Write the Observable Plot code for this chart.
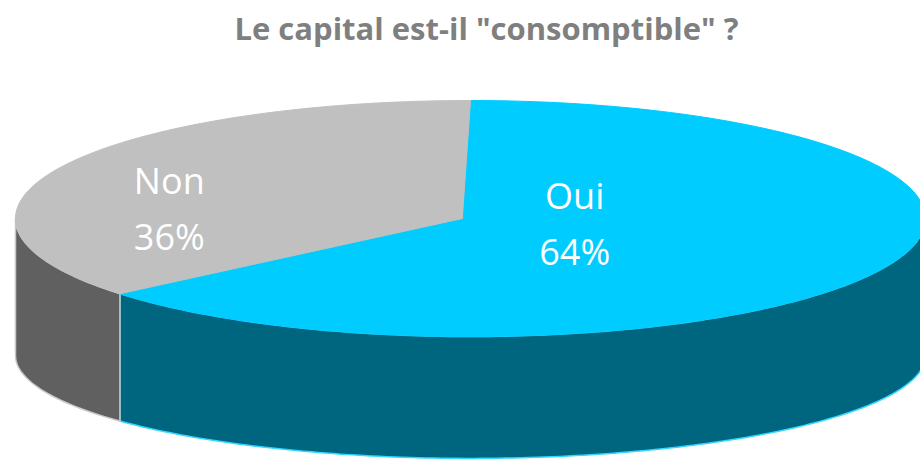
<!DOCTYPE html>
<html>
<head>
<meta charset="utf-8">
<script src="https://cdn.jsdelivr.net/npm/d3@7"></script>
<script src="https://cdn.jsdelivr.net/npm/@observablehq/plot@0.6"></script>
<style>
  html, body { margin: 0; padding: 0; background: #ffffff; overflow: hidden; }
  #chart { width: 920px; height: 460px; overflow: hidden; }
</style>
</head>
<body>
<div id="chart"></div>
<script>
// ---- Data ----
const categories = ["Oui", "Non"];
const values = [64, 36];
const percentLabels = ["64%", "36%"];
const topColors = ["#00CCFF", "#C0C0C0"];
const sideColors = ["#006680", "#606060"];
const edgeColors = ["#33D6FF", "#C8C8C8"];
const title = "Le capital est-il \"consomptible\" ?";

// ---- Geometry (unit ellipse, angle 0 = top, clockwise) ----
const depth = 1.16;          // offset of the bottom ellipse centre (vertical radius units)
const bottomSquash = 0.873;  // perspective: bottom ellipse looks flatter
const apex = [-0.018, 0];    // perspective shift of the pie centre on the top face
const total = d3.sum(values);
const slices = [];
let acc = 0;
values.forEach((v, i) => {
  const a0 = acc / total * 2 * Math.PI;
  acc += v;
  const a1 = acc / total * 2 * Math.PI;
  slices.push({name: categories[i], i, a0, a1});
});

const arcPts = (s, e, bottom = false) => {
  const n = Math.max(2, Math.ceil((e - s) / (Math.PI / 180)));
  const pts = [];
  for (let k = 0; k <= n; k++) {
    const t = s + (e - s) * k / n;
    pts.push(bottom ? [Math.sin(t), Math.cos(t) * bottomSquash - depth]
                    : [Math.sin(t), Math.cos(t)]);
  }
  return pts;
};

const tops = [];
const sides = [];
slices.forEach(s => {
  const poly = [apex, ...arcPts(s.a0, s.a1), apex];
  poly.forEach(([x, y]) => tops.push({id: s.name, i: s.i, x, y}));
  const st = Math.max(s.a0, Math.PI / 2);
  const en = Math.min(s.a1, 3 * Math.PI / 2);
  if (en > st) {
    const up = arcPts(st, en);
    const down = arcPts(st, en, true).reverse();
    const sp = [...up, ...down, up[0]];
    sp.forEach(([x, y]) => sides.push({id: s.name, i: s.i, x, y}));
  }
});

// label anchors (layout, in unit ellipse coordinates)
const labelAnchor = {Oui: [0.229, -0.005], Non: [-0.662, 0.12]};
const labels = slices.map(s => ({
  x: labelAnchor[s.name][0],
  y: labelAnchor[s.name][1],
  text: s.name + "\n" + percentLabels[s.i]
}));

const cx = 470, rx = 455, cy = 218, ry = 118;

const chart = Plot.plot({
  width: 920,
  height: 460,
  margin: 0,
  style: {background: "transparent", overflow: "hidden"},
  x: {type: "linear", domain: [-1, 1], range: [cx - rx, cx + rx], axis: null},
  y: {type: "linear", domain: [-1, 1], range: [cy + ry, cy - ry], axis: null},
  marks: [
    Plot.line(sides, {
      x: "x", y: "y", z: "id",
      fill: d => sideColors[d.i],
      stroke: d => edgeColors[d.i],
      strokeWidth: 1.5,
      curve: "linear"
    }),
    Plot.line(tops, {
      x: "x", y: "y", z: "id",
      fill: d => topColors[d.i],
      stroke: d => topColors[d.i],
      strokeWidth: 1,
      curve: "linear"
    }),
    Plot.text(labels, {
      x: "x", y: "y", text: "text",
      fill: "white",
      fontSize: 36,
      fontFamily: "Open Sans",
      lineHeight: 1.54,
      textAnchor: "middle",
      lineAnchor: "middle"
    }),
    Plot.text([title], {
      frameAnchor: "top",
      dx: 26, dy: 30,
      text: d => d,
      fill: "#7F7F7F",
      fontSize: 31,
      fontWeight: "bold",
      fontFamily: "Open Sans",
      lineAnchor: "middle",
      textAnchor: "middle"
    })
  ]
});
chart.querySelectorAll("path").forEach(p => p.setAttribute("stroke-linejoin", "round"));
document.getElementById("chart").appendChild(chart);
</script>
</body>
</html>
